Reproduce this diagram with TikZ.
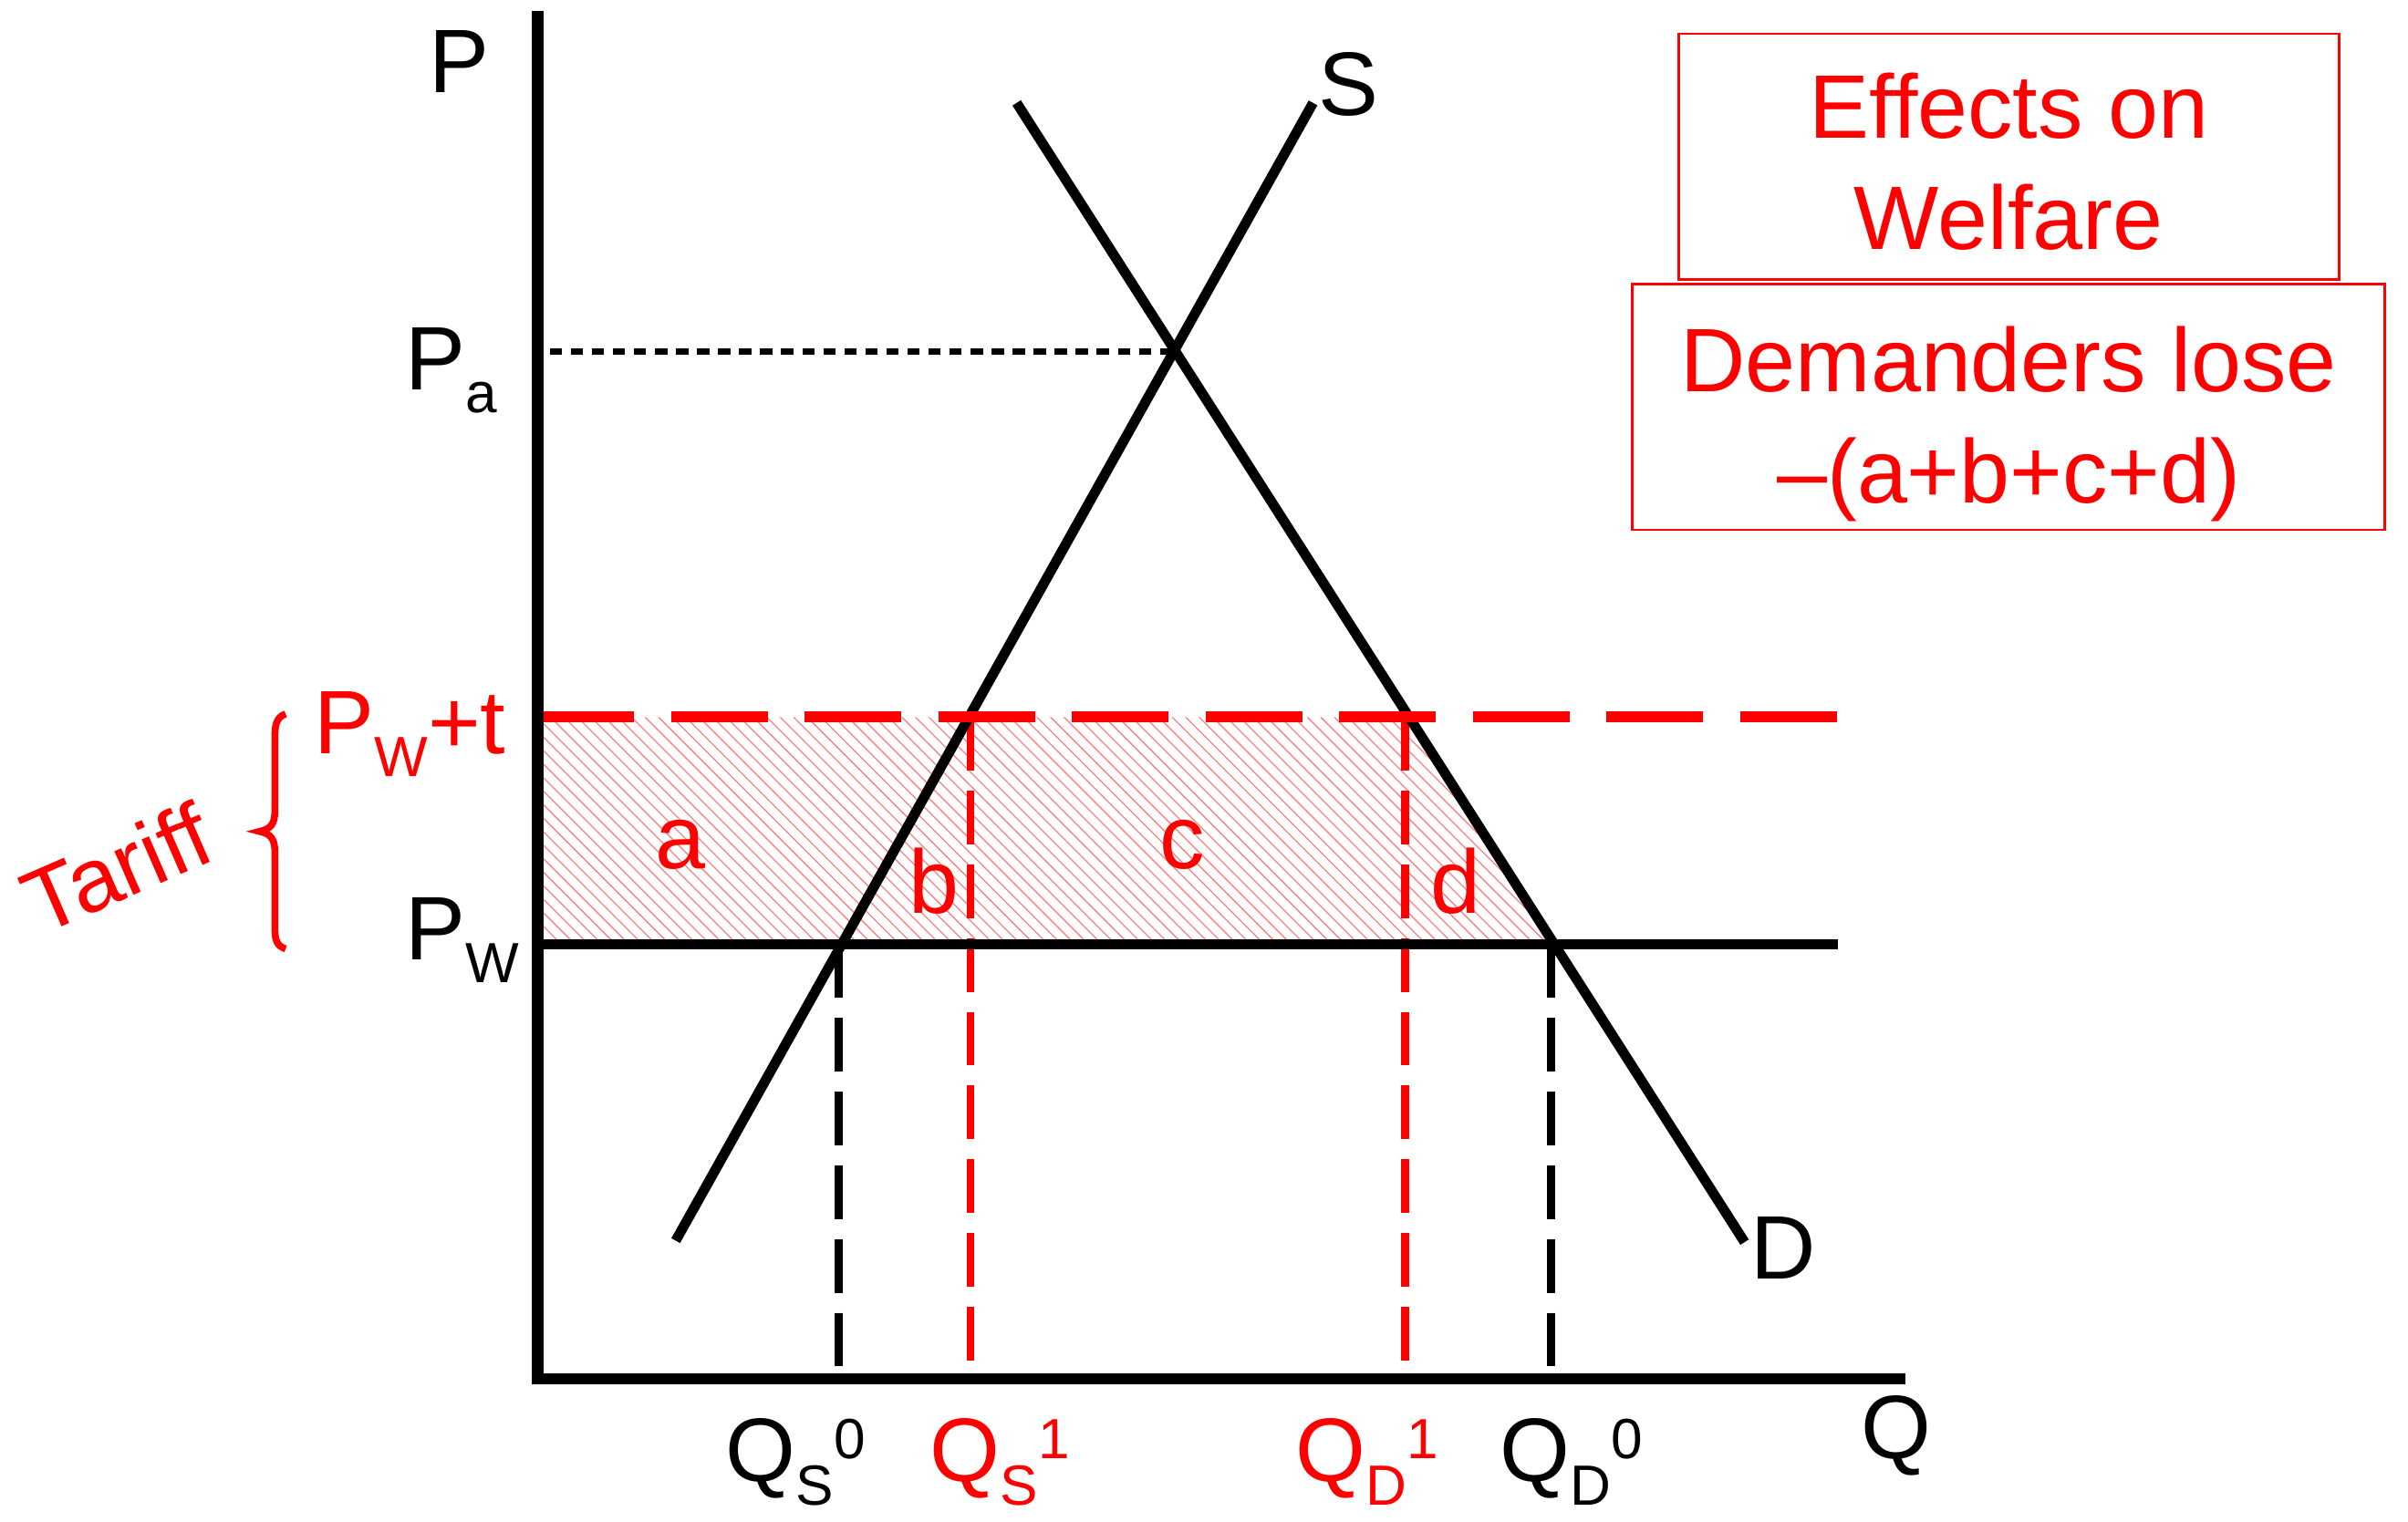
\documentclass[tikz,border=0pt]{standalone}
\usepackage{fontspec}
\setmainfont{Liberation Sans}
\newcommand\mysub[1]{\raisebox{-1.5mm}{\fontsize{10.5}{12}\selectfont #1}}
\newcommand\mysup[1]{\raisebox{1.5mm}{\fontsize{10.5}{12}\selectfont #1}}
\begin{document}
\begin{tikzpicture}[x=0.1mm,y=-0.1mm,
  lbl/.style={inner sep=0pt, font=\fontsize{16.7}{20.5}\selectfont},
  curveline/.style={line width=0.65mm, black},
  axisline/.style={line width=0.75mm, black, line join=miter},
  tarifflevel/.style={line width=0.7mm, red, dash pattern=on 6.3mm off 2.4mm},
  reddrop/.style={line width=0.5mm, red, dash pattern=on 3.5mm off 1.3mm},
  blackdrop/.style={line width=0.52mm, black, dash pattern=on 3.5mm off 1.3mm},
  dotline/.style={line width=0.4mm, black, dash pattern=on 0.8mm off 0.57mm},
  hatchline/.style={line width=0.22pt, red!50},
  infobox/.style={draw=red, line width=0.45pt, inner sep=0pt},
  infotext/.style={lbl, red, align=center}]
\useasboundingbox (0,0) rectangle (1568,991);

% key points
\coordinate (O) at (350,898);
\coordinate (Ytop) at (350,7);
\coordinate (Xend) at (1241,898);
\coordinate (Sbot) at (440,808);
\coordinate (Stop) at (855,67);
\coordinate (Dtop) at (662,67);
\coordinate (Dbot) at (1136,809);
\coordinate (E) at (765,229);
\coordinate (PaL) at (358,229);
\coordinate (PwL) at (350,615);
\coordinate (PwR) at (1197,615);
\coordinate (PtL) at (350,467);
\coordinate (PtR) at (1196,467);

% hatched area
\begin{scope}
\clip (350,467) -- (918,467) -- (1013,615) -- (350,615) -- cycle;
\foreach \i in {0,...,95} { \draw[hatchline] ({200+8.8*\i},467) -- ++(148,148); }
\end{scope}

% dotted Pa line
\draw[dotline] (PaL) -- (E);

% vertical drops
\draw[blackdrop] (546,615) -- (546,891);
\draw[blackdrop] (1010,615) -- (1010,891);
\draw[reddrop] (632,467) -- (632,887);
\draw[reddrop] (915,467) -- (915,887);

% world price line
\draw[curveline] (PwL) -- (PwR);
% supply and demand
\draw[curveline] (Sbot) -- (Stop);
\draw[curveline] (Dtop) -- (Dbot);
% tariff price line
\draw[tarifflevel] (PtL) -- (PtR);
% axes
\draw[axisline] (Ytop) -- (O) -- (Xend);

% brace
\draw[red, line width=0.45mm] (186,465) .. controls (180,467) and (179,472) .. (179,480) -- (179,528) .. controls (179,537) and (176,540) .. (169,541.5) .. controls (176,543) and (179,546) .. (179,555) -- (179,604) .. controls (179,612) and (180,616) .. (186,618);

% axis labels
\node[lbl, anchor=base] (lp) at (299,60) {P};
\node[lbl, anchor=base] (lq) at (1235,950) {Q};
\node[lbl, anchor=base] (ls) at (878,75) {S};
\node[lbl, anchor=base] (ld) at (1161,833) {D};
\node[lbl, anchor=base west] (lpa) at (263.5,254) {P\mysub{a}};
\node[lbl, anchor=base west, red] (lpt) at (204,491) {P\mysub{W}+t};
\node[lbl, anchor=base west] (lpw) at (263.5,625) {P\mysub{W}};
\node[lbl, red, rotate=23.5] (tariff) at (76,565) {Tariff};

% quantity labels
\node[lbl, anchor=base west] (qs0) at (472,965) {Q\mysub{S}\mysup{0}};
\node[lbl, anchor=base west, red] (qs1) at (605,965) {Q\mysub{S}\mysup{1}};
\node[lbl, anchor=base west, red] (qd1) at (843,965) {Q\mysub{D}\mysup{1}};
\node[lbl, anchor=base west] (qd0) at (976,965) {Q\mysub{D}\mysup{0}};

% area labels
\node[lbl, red, anchor=base] (la) at (443,566) {a};
\node[lbl, red, anchor=base] (lb) at (608,595) {b};
\node[lbl, red, anchor=base] (lc) at (770,566) {c};
\node[lbl, red, anchor=base] (ldd) at (948,595) {d};

% info boxes
\node[infobox, minimum width=43mm, minimum height=16mm] (box1) at (1308,102) {};
\node[infotext] (t1) at (1308,105.2) {Effects on\\Welfare};
\node[infobox, minimum width=49mm, minimum height=16mm] (box2) at (1308,265) {};
\node[infotext] (t2) at (1308,276.2) {Demanders lose\\–(a+b+c+d)};
\end{tikzpicture}
\end{document}
